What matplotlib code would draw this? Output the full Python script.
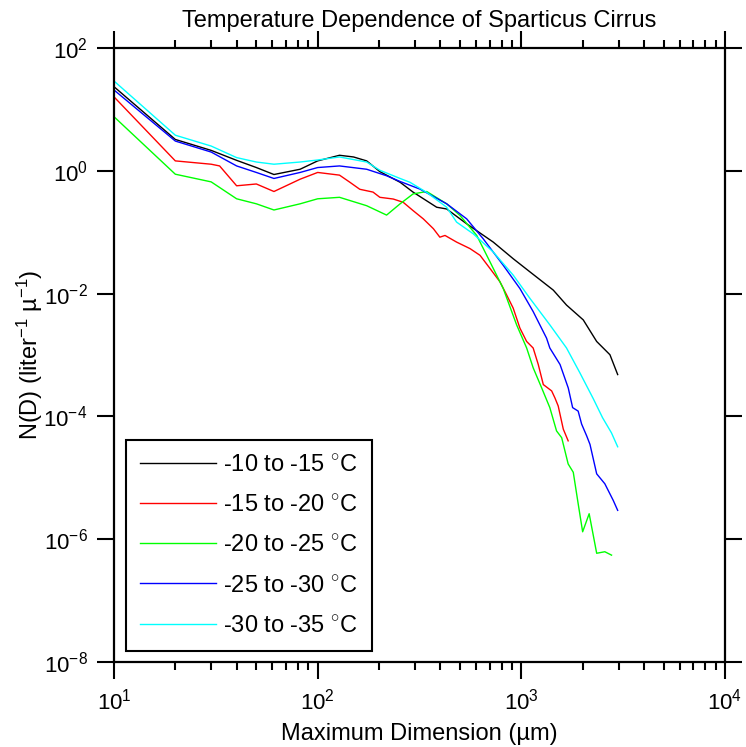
import matplotlib
matplotlib.use("Agg")
import matplotlib.pyplot as plt
from matplotlib.ticker import FixedLocator, NullLocator, NullFormatter, LogFormatterSciNotation

plt.rcParams['font.family'] = ['Liberation Sans', 'DejaVu Sans']
plt.rcParams['mathtext.fontset'] = 'custom'
plt.rcParams['mathtext.rm'] = 'Liberation Sans'
plt.rcParams['mathtext.it'] = 'Liberation Sans:italic'
plt.rcParams['mathtext.bf'] = 'Liberation Sans:bold'

# ---- data ----
d_black = [10, 20, 30, 40, 50, 61, 82, 100, 128, 150, 174, 202, 254, 294, 384, 430, 539,
           728, 912, 1102, 1435, 1667, 2014, 2344, 2723, 2972]
n_black = [23.4, 3.24, 2.15, 1.48, 1.13, 0.87, 1.06, 1.45, 1.79, 1.68, 1.45, 0.97, 0.65, 0.45,
           0.255, 0.239, 0.137, 0.069, 0.037, 0.0226, 0.0114, 0.0065, 0.00373, 0.00166,
           0.00101, 4.8e-4]

d_red = [10, 20, 30, 33, 40, 50, 61, 82, 100, 128, 144, 161, 187, 202, 235, 263, 294, 330,
         370, 398, 422, 481, 560, 627, 702, 785, 847, 912, 984, 1062, 1143, 1211, 1282,
         1409, 1462, 1517, 1607, 1698]
n_red = [16, 1.45, 1.28, 1.2, 0.57, 0.61, 0.46, 0.73, 0.94, 0.85, 0.65, 0.50, 0.45, 0.37,
         0.347, 0.307, 0.225, 0.165, 0.114, 0.083, 0.0885, 0.069, 0.054, 0.042, 0.0256,
         0.0156, 0.0095, 0.0058, 0.00274, 0.00166, 0.0013, 7e-4, 3.3e-4, 2.6e-4, 2.0e-4,
         1.48e-4, 6.2e-5, 4.0e-5]

d_green = [10, 20, 30, 40, 50, 61, 82, 100, 128, 174, 218, 254, 294, 343, 430, 500, 604,
           702, 815, 948, 1062, 1143, 1259, 1380, 1489, 1578, 1698, 1799, 1901, 2000, 2153,
           2344, 2570, 2773]
n_green = [7.6, 0.88, 0.66, 0.35, 0.29, 0.23, 0.29, 0.35, 0.37, 0.27, 0.19, 0.29, 0.42, 0.46,
           0.29, 0.187, 0.0885, 0.0328, 0.0121, 0.0031, 1.3e-3, 6.2e-4, 2.9e-4, 1.39e-4,
           5.8e-5, 4.5e-5, 1.68e-5, 1.23e-5, 3.8e-6, 1.32e-6, 2.6e-6, 5.9e-7, 6.25e-7, 5.5e-7]

d_blue = [10, 20, 30, 40, 50, 61, 82, 100, 128, 174, 218, 254, 318, 430, 539, 650, 815, 984,
          1143, 1330, 1380, 1549, 1700, 1786, 1901, 1977, 2094, 2173, 2344, 2570, 2825, 2972]
n_blue = [20.7, 3.05, 2.02, 1.2, 0.94, 0.75, 0.94, 1.13, 1.2, 1.06, 0.83, 0.67, 0.503, 0.29,
          0.165, 0.078, 0.0289, 0.0121, 0.0051, 0.00188, 0.0013, 7e-4, 2.9e-4, 1.39e-4,
          1.22e-4, 7.5e-5, 4.8e-5, 3.5e-5, 1.16e-5, 8e-6, 4.3e-6, 2.95e-6]

d_cyan = [10, 20, 30, 40, 50, 61, 82, 100, 128, 174, 202, 254, 284, 343, 430, 481, 581, 728,
          912, 1102, 1380, 1667, 1940, 2254, 2506, 2770, 2972]
n_cyan = [29, 3.8, 2.53, 1.64, 1.39, 1.28, 1.39, 1.50, 1.68, 1.39, 1.02, 0.75, 0.65, 0.445,
          0.255, 0.146, 0.094, 0.0476, 0.02, 0.00836, 0.0031, 0.0013, 5.1e-4, 1.95e-4,
          9.5e-5, 5.4e-5, 3.2e-5]

labels = [r'-10 to -15 $^{\circ}$C', r'-15 to -20 $^{\circ}$C', r'-20 to -25 $^{\circ}$C',
          r'-25 to -30 $^{\circ}$C', r'-30 to -35 $^{\circ}$C']
colors = ['#000000', '#ff0000', '#00ff00', '#0000ff', '#00ffff']

x_major = [10, 100, 1000, 10000]
x_minor = [m * b for b in (10, 100, 1000) for m in range(2, 10)]
y_major = [1e-8, 1e-6, 1e-4, 1e-2, 1, 1e2]

series = [(d_black, n_black), (d_red, n_red), (d_green, n_green),
          (d_blue, n_blue), (d_cyan, n_cyan)]

fig = plt.figure(figsize=(7.46, 7.47), dpi=100)
ax = fig.add_axes([114/746, 1 - 662/747, (725-114)/746, (662-48)/747])

for (d, n), c, lab in zip(series, colors, labels):
    ax.plot(d, n, color=c, lw=1.0, label=lab)

ax.set_xscale('log')
ax.set_yscale('log')
ax.set_xlim(10, 1e4)
ax.set_ylim(1e-8, 1e2)

ax.xaxis.set_major_locator(FixedLocator(x_major))
ax.xaxis.set_minor_locator(FixedLocator(x_minor))
ax.xaxis.set_minor_formatter(NullFormatter())
ax.yaxis.set_major_locator(FixedLocator(y_major))
ax.yaxis.set_minor_locator(NullLocator())
ax.yaxis.set_minor_formatter(NullFormatter())
ax.xaxis.set_major_formatter(LogFormatterSciNotation())
ax.yaxis.set_major_formatter(LogFormatterSciNotation(base=10))

for sp in ax.spines.values():
    sp.set_linewidth(1.6)
ax.tick_params(which='both', direction='out', top=True, right=True, width=1.5)
ax.tick_params(which='major', length=12, labelsize=16, pad=7)
ax.tick_params(which='minor', length=6)

ax.set_title('Temperature Dependence of Sparticus Cirrus', fontsize=17, pad=15)
ax.set_xlabel('Maximum Dimension (µm)', fontsize=17, labelpad=6)
ax.set_ylabel('N(D) (liter$^{-1}$ µ$^{-1}$)', fontsize=17, labelpad=-1)

leg = ax.legend(loc='lower left', bbox_to_anchor=(0.0196, 0.0179), borderaxespad=0,
                fontsize=17, handlelength=3.2, handletextpad=0.3, labelspacing=0.77,
                borderpad=0.6, fancybox=False, framealpha=1, edgecolor='black')
leg.get_frame().set_linewidth(1.5)

fig.savefig('out.png', dpi=100)
